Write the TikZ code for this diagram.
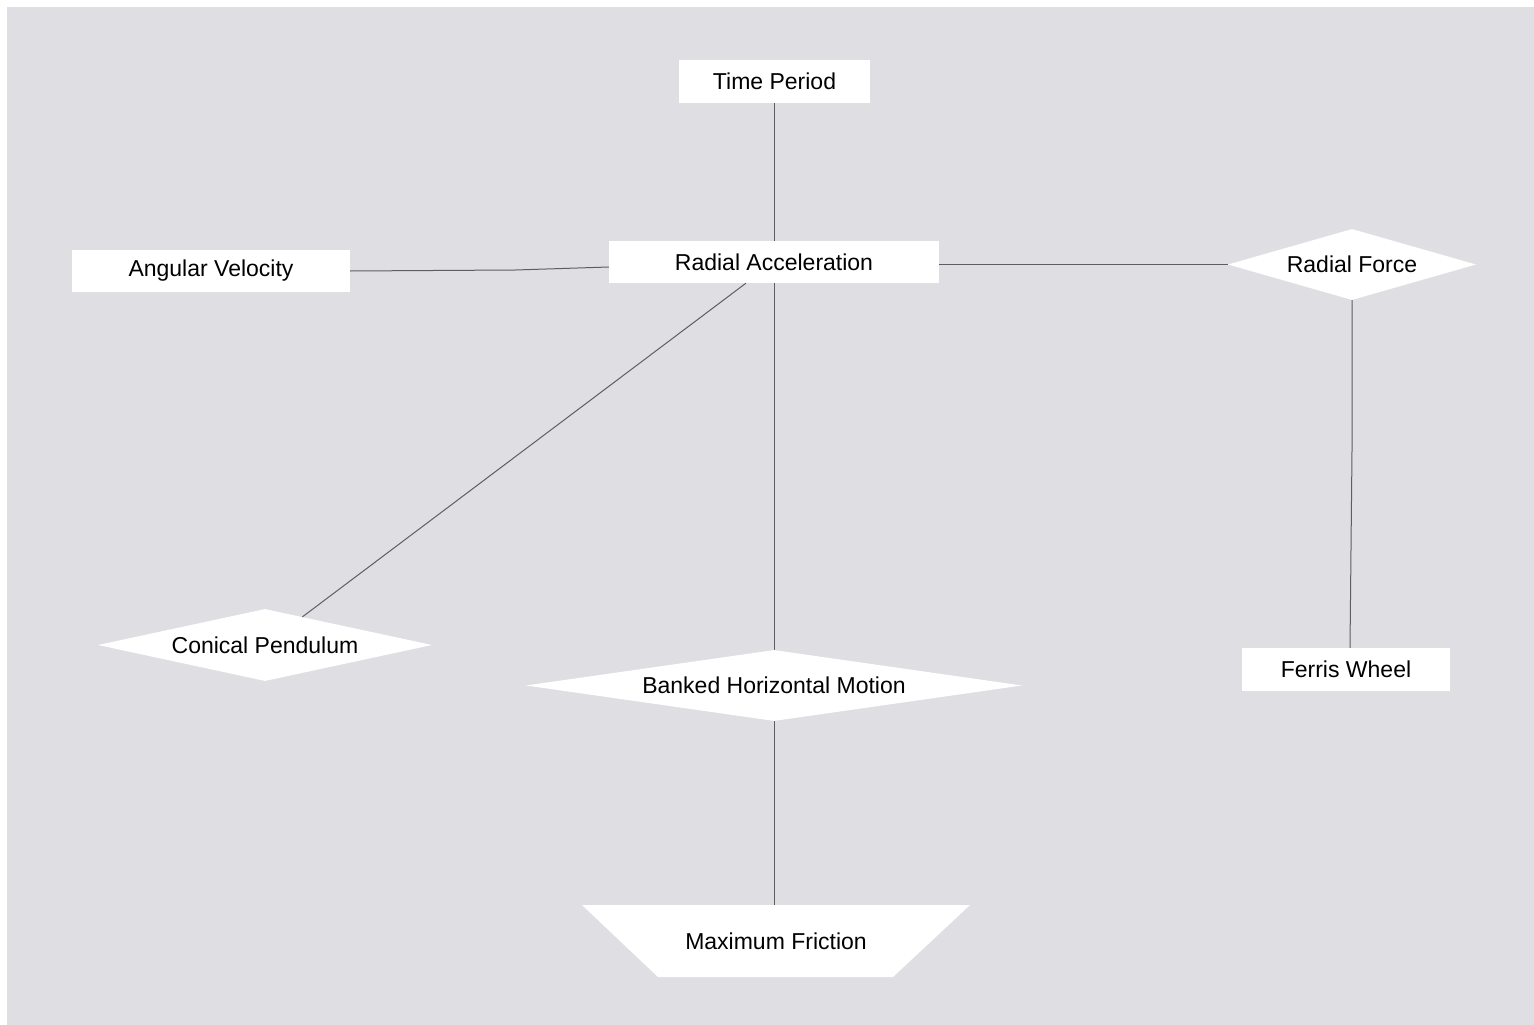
\documentclass[tikz,border=0pt]{standalone}
\usepackage{fontspec}
\setmainfont{Liberation Sans}
\usetikzlibrary{shapes.geometric}
\definecolor{bggrey}{HTML}{DFDEE3}
\definecolor{linegrey}{HTML}{5E5E5E}
\begin{document}
\begin{tikzpicture}[x=1pt,y=-1pt,
  every node/.style={font=\fontsize{23}{27}\selectfont, text=black, inner sep=0pt},
  boxnode/.style={rectangle, fill=white},
  dianode/.style={diamond, fill=white},
  link/.style={draw=linegrey, line width=1pt}]
\useasboundingbox (0,0) rectangle (1534,1025);
\fill[white] (0,0) rectangle (1534,1025);
\fill[bggrey] (7,7) rectangle (1534,1025);
% nodes
\node[boxnode, minimum width=191pt, minimum height=43pt] (tp) at (774.5,81.5) {Time Period};
\node[boxnode, minimum width=330pt, minimum height=42pt] (ra) at (774,262) {Radial Acceleration};
\node[boxnode, minimum width=278pt, minimum height=42pt] (av) at (211,271) {Angular Velocity};
\node[dianode, minimum width=248pt, minimum height=71pt, aspect=3.49] (rf) at (1352,264.5) {Radial Force};
\node[dianode, minimum width=334pt, minimum height=72pt, aspect=4.64] (cp) at (265,645) {Conical Pendulum};
\node[dianode, minimum width=496pt, minimum height=71pt, aspect=6.99] (bh) at (774,685.5) {Banked Horizontal Motion};
\node[boxnode, minimum width=208pt, minimum height=43pt] (fw) at (1346,669.5) {Ferris Wheel};
\fill[white] (582,905) -- (970,905) -- (893,977) -- (658,977) -- cycle;
\node[rectangle, minimum width=388pt, minimum height=72pt] (mf) at (776,941) {Maximum Friction};
% connectors
\draw[link] (tp.south -| ra.north) -- (ra.north);
\draw[link] (av.east) -- ++(165,-1) -- (ra.west |- 0,267);
\draw[link] (rf.west -| ra.east) -- (rf.west);
\draw[link] (ra) -- (cp);
\draw[link] (ra.south -| bh.north) -- (bh.north);
\draw[link] (rf.south) -- ++(0,150) -- (fw.north -| 1350,0);
\draw[link] (bh.south) -- (mf.north -| bh.south);
\end{tikzpicture}
\end{document}
